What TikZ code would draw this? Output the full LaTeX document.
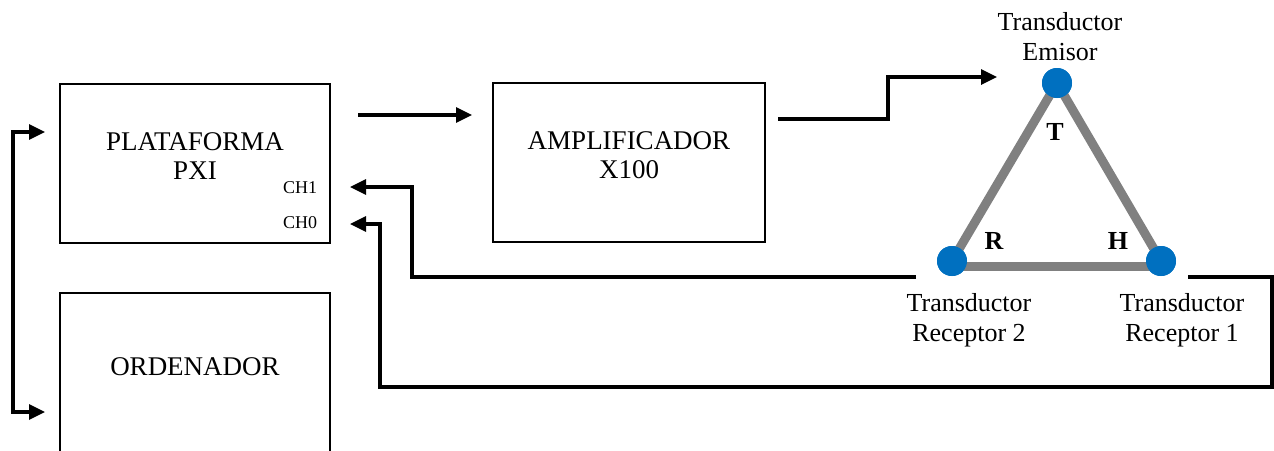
\documentclass[tikz,border=0pt]{standalone}
\usepackage{fontspec}
\setmainfont{Liberation Serif}
\usetikzlibrary{arrows.meta}
\definecolor{tgray}{RGB}{128,128,128}
\definecolor{tblue}{RGB}{0,112,192}
\begin{document}
\begin{tikzpicture}[x=1pt,y=-1pt,
  box/.style={draw,line width=2.4pt,minimum width=270pt,minimum height=159pt,inner sep=0pt},
  txt/.style={font=\fontsize{26}{30}\selectfont,align=center,inner sep=0pt},
  btxt/.style={font=\fontsize{27}{29}\selectfont,align=center,inner sep=0pt},
  ch/.style={font=\fontsize{18}{20}\selectfont,inner sep=0pt},
  conn/.style={line width=3.3pt,-{Triangle[length=16pt,width=15pt]}},
  both/.style={line width=3.3pt,{Triangle[length=16pt,width=15pt]}-{Triangle[length=16pt,width=15pt]}},
  tri/.style={line width=9pt,draw=tgray},
  dot/.style={circle,fill=tblue,minimum size=30pt,inner sep=0pt},
  lbl/.style={font=\fontsize{26}{30}\selectfont\bfseries,inner sep=0pt}]
\clip (0,0) rectangle (1274,450);
% boxes
\node[box] (pxi) at (195,163.5) {};
\node[box,minimum width=272pt] (amp) at (629,162.5) {};
\node[box,minimum height=180pt] (ord) at (195,383) {};
\node[btxt] (pxit) at (195,156) {PLATAFORMA\\PXI};
\node[btxt] (ampt) at (629,155.5) {AMPLIFICADOR\\X100};
\node[btxt] (ordt) at (195,367) {ORDENADOR};
\node[ch] (ch1) at (300,188) {CH1};
\node[ch] (ch0) at (300,223) {CH0};
% transducers
\node[dot] (e) at (1057,83) {};
\node[dot] (r2) at (952,261) {};
\node[dot] (r1) at (1161,261) {};
\draw[tri] (e.center) -- (r2.center);
\draw[tri] (e.center) -- (r1.center);
\draw[tri] ([yshift=-5pt]r2.center) -- ([yshift=-5pt]r1.center);
\node[dot] at (e) {};
\node[dot] at (r2) {};
\node[dot] at (r1) {};
\node[lbl] (lt) at (1055,132) {T};
\node[lbl] (lr) at (994,241) {R};
\node[lbl] (lh) at (1118,241) {H};
\node[txt] (et) at (1060,37) {Transductor\\Emisor};
\node[txt] (r2t) at (969,320) {Transductor\\Receptor 2};
\node[txt] (r1t) at (1182,320) {Transductor\\Receptor 1};
% connectors
\coordinate (p1) at (358,115);
\coordinate (a1) at (472,115);
\draw[conn] (p1) -- (a1);
\coordinate (ao) at (778,119);
\coordinate (ei) at (997,77);
\draw[conn] (ao) -- (888,119) -- (888,77) -- (ei);
\coordinate (c1s) at (916,277);
\coordinate (c1e) at (350,187);
\draw[conn] (c1s) -- (412,277) -- (412,187) -- (c1e);
\coordinate (c0s) at (1188,277);
\coordinate (c0e) at (350,224);
\draw[conn] (c0s) -- (1272,277) -- (1272,387) -- (380,387) -- (380,224) -- (c0e);
\coordinate (bt) at (45,132);
\coordinate (bb) at (45,412);
\draw[both] (bt) -- (13,132) -- (13,412) -- (bb);
\end{tikzpicture}
\end{document}
